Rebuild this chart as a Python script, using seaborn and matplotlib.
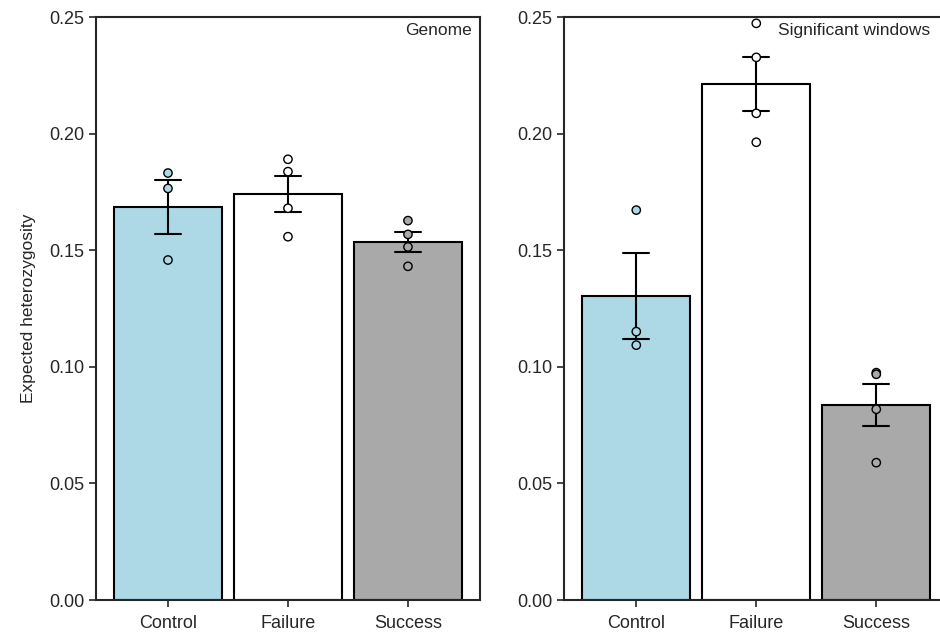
import numpy as np
import pandas as pd
import seaborn as sns
import matplotlib.pyplot as plt

groups = ["Control", "Failure", "Success"]
colors = ["#ADD8E6", "#FFFFFF", "#A9A9A9"]

genome_control = [0.1831, 0.1765, 0.1458]
genome_failure = [0.1890, 0.1837, 0.1680, 0.1558]
genome_success = [0.1627, 0.1568, 0.1514, 0.1431]

sig_control = [0.1672, 0.1151, 0.1093]
sig_failure = [0.2473, 0.2327, 0.2087, 0.1963]
sig_success = [0.0975, 0.0968, 0.0818, 0.0589]

yticks = [0.00, 0.05, 0.10, 0.15, 0.20, 0.25]


def long_df(ctrl, fail, succ):
    rows = []
    for g, vals in zip(groups, [ctrl, fail, succ]):
        for v in vals:
            rows.append({"group": g, "he": v})
    return pd.DataFrame(rows)


df_genome = long_df(genome_control, genome_failure, genome_success)
df_sig = long_df(sig_control, sig_failure, sig_success)

sns.set_style("ticks")
plt.rcParams["font.family"] = ["Liberation Sans", "DejaVu Sans"]

fig = plt.figure(figsize=(9.4, 6.33), dpi=100)
ax1 = fig.add_axes([0.1021, 0.0521, 0.4085, 0.921])
ax2 = fig.add_axes([0.6003, 0.0521, 0.4085, 0.921])

pal = dict(zip(groups, colors))

panels = [(ax1, df_genome, "Genome", 0.979), (ax2, df_sig, "Significant windows", 0.952)]
for ax, df, label, xr in panels:
    sns.barplot(data=df, x="group", y="he", hue="group", order=groups, palette=pal,
                saturation=1, errorbar="se", capsize=0.22, width=0.9,
                edgecolor="black", linewidth=1.5,
                err_kws={"color": "black", "linewidth": 1.5}, legend=False, ax=ax)
    sns.stripplot(data=df, x="group", y="he", hue="group", order=groups, palette=pal,
                  jitter=False, size=6, edgecolor="black", linewidth=1, legend=False,
                  ax=ax, zorder=5)
    ax.set_xlim(-0.6, 2.6)
    ax.set_ylim(0, 0.25)
    ax.set_yticks(yticks)
    ax.set_yticklabels([f"{t:.2f}" for t in yticks])
    ax.set_xlabel("")
    ax.set_ylabel("")
    ax.tick_params(labelsize=13, length=5, width=1.2)
    ax.tick_params(axis="x", pad=6)
    for s in ax.spines.values():
        s.set_linewidth(1.5)
        s.set_visible(True)
    ax.text(xr, 0.99, label, transform=ax.transAxes, ha="right", va="top", fontsize=12.5)
    for c in ax.collections:
        c.set_clip_on(False)

ax1.set_ylabel("Expected heterozygosity", fontsize=12.5, labelpad=9)

fig.savefig("out.png", dpi=100)
